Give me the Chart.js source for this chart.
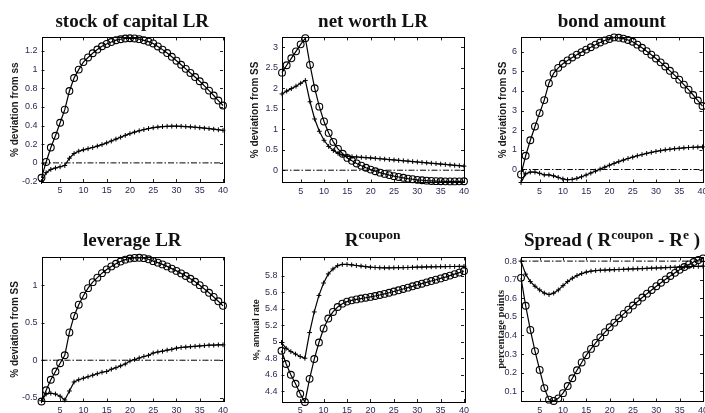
<!DOCTYPE html>
<html>
<head>
<meta charset="utf-8">
<script src="https://cdn.jsdelivr.net/npm/chart.js@4.4.1/dist/chart.umd.min.js"></script>
<style>
  html, body { margin: 0; padding: 0; background: #fff; }
  body { position: relative; width: 705px; height: 413px; overflow: hidden; }
  canvas { position: absolute; }
  .title {
    position: absolute; width: 320px; text-align: center; white-space: nowrap;
    font: bold 19px 'Liberation Serif', 'Times New Roman', serif; line-height: 19px; color: #111;
  }
  .title sup { font-size: 13.5px; vertical-align: 7px; line-height: 0; }
</style>
</head>
<body>
<script>
// impulse responses, periods 1..40 (circles / crosses)
const periods = Array.from({ length: 40 }, (_, i) => i + 1)
const xTicks = [5, 10, 15, 20, 25, 30, 35, 40]

const capitalCirc = [-0.16, 0.01, 0.165, 0.29, 0.43, 0.57, 0.77, 0.91, 1.0, 1.08, 1.13, 1.175, 1.215, 1.25, 1.275, 1.295, 1.315, 1.325, 1.333, 1.336,
  1.334, 1.326, 1.314, 1.299, 1.28, 1.248, 1.214, 1.177, 1.137, 1.095, 1.052, 1.008, 0.964, 0.92, 0.875, 0.826, 0.775, 0.722, 0.668, 0.615]
const capitalPlus = [-0.2, -0.105, -0.07, -0.055, -0.042, -0.028, 0.05, 0.1, 0.125, 0.14, 0.152, 0.165, 0.18, 0.196, 0.214, 0.234, 0.255, 0.275, 0.295, 0.313,
  0.33, 0.344, 0.357, 0.368, 0.377, 0.384, 0.389, 0.392, 0.393, 0.393, 0.392, 0.389, 0.386, 0.382, 0.377, 0.372, 0.367, 0.361, 0.355, 0.349]

const netWorthCirc = [2.38, 2.56, 2.73, 2.9, 3.07, 3.22, 2.57, 2.0, 1.55, 1.19, 0.91, 0.69, 0.52, 0.4, 0.3, 0.23, 0.165, 0.11, 0.06, 0.015,
  -0.025, -0.06, -0.09, -0.12, -0.145, -0.165, -0.185, -0.205, -0.22, -0.235, -0.245, -0.255, -0.262, -0.267, -0.27, -0.272, -0.273, -0.273, -0.272, -0.27]
const netWorthPlus = [1.86, 1.93, 1.99, 2.05, 2.12, 2.19, 1.67, 1.25, 0.95, 0.73, 0.58, 0.48, 0.41, 0.37, 0.345, 0.33, 0.322, 0.315, 0.307, 0.3,
  0.29, 0.28, 0.27, 0.26, 0.25, 0.24, 0.23, 0.22, 0.21, 0.2, 0.19, 0.18, 0.17, 0.16, 0.15, 0.14, 0.13, 0.12, 0.11, 0.1]

const bondCirc = [-0.25, 0.7, 1.49, 2.19, 2.87, 3.53, 4.39, 4.89, 5.17, 5.38, 5.55, 5.7, 5.84, 5.97, 6.1, 6.22, 6.35, 6.46, 6.56, 6.64,
  6.72, 6.7, 6.66, 6.59, 6.5, 6.35, 6.19, 6.02, 5.84, 5.65, 5.45, 5.24, 5.02, 4.8, 4.57, 4.32, 4.06, 3.79, 3.51, 3.23]
const bondPlus = [-0.66, -0.22, -0.13, -0.13, -0.19, -0.27, -0.27, -0.32, -0.4, -0.48, -0.52, -0.5, -0.45, -0.37, -0.28, -0.18, -0.08, 0.02, 0.12, 0.22,
  0.31, 0.4, 0.48, 0.56, 0.63, 0.7, 0.76, 0.82, 0.87, 0.92, 0.96, 1.0, 1.03, 1.06, 1.08, 1.1, 1.12, 1.13, 1.14, 1.15]

const leverageCirc = [-0.55, -0.4, -0.26, -0.15, -0.04, 0.066, 0.37, 0.59, 0.74, 0.86, 0.96, 1.04, 1.1, 1.16, 1.21, 1.25, 1.285, 1.315, 1.34, 1.355,
  1.363, 1.365, 1.36, 1.345, 1.32, 1.3, 1.277, 1.25, 1.22, 1.19, 1.157, 1.122, 1.085, 1.045, 1.0, 0.95, 0.898, 0.843, 0.785, 0.725]
const leveragePlus = [-0.54, -0.45, -0.44, -0.45, -0.48, -0.53, -0.41, -0.29, -0.26, -0.24, -0.22, -0.2, -0.18, -0.16, -0.15, -0.12, -0.1, -0.075, -0.05, -0.01,
  0.01, 0.03, 0.05, 0.065, 0.096, 0.11, 0.12, 0.135, 0.145, 0.16, 0.17, 0.175, 0.18, 0.185, 0.19, 0.195, 0.2, 0.2, 0.205, 0.205]

const couponCirc = [4.89, 4.73, 4.6, 4.49, 4.37, 4.27, 4.55, 4.79, 4.99, 5.16, 5.28, 5.36, 5.42, 5.46, 5.485, 5.5, 5.512, 5.522, 5.532, 5.542,
  5.553, 5.565, 5.578, 5.592, 5.607, 5.622, 5.638, 5.654, 5.67, 5.686, 5.702, 5.718, 5.734, 5.75, 5.766, 5.782, 5.8, 5.818, 5.836, 5.855]
const couponPlus = [4.99, 4.92, 4.88, 4.85, 4.82, 4.8, 5.11, 5.36, 5.56, 5.71, 5.82, 5.88, 5.92, 5.935, 5.935, 5.93, 5.922, 5.915, 5.908, 5.902,
  5.898, 5.895, 5.894, 5.894, 5.895, 5.896, 5.897, 5.898, 5.9, 5.902, 5.903, 5.905, 5.906, 5.907, 5.908, 5.909, 5.91, 5.91, 5.911, 5.912]

const spreadCirc = [0.71, 0.56, 0.43, 0.316, 0.215, 0.117, 0.055, 0.048, 0.062, 0.09, 0.128, 0.17, 0.213, 0.255, 0.294, 0.328, 0.36, 0.39, 0.418, 0.444,
  0.469, 0.493, 0.516, 0.539, 0.561, 0.583, 0.604, 0.625, 0.645, 0.665, 0.684, 0.702, 0.72, 0.737, 0.753, 0.768, 0.782, 0.795, 0.806, 0.815]
const spreadPlus = [0.8, 0.73, 0.69, 0.665, 0.645, 0.628, 0.62, 0.628, 0.645, 0.668, 0.69, 0.708, 0.722, 0.733, 0.741, 0.746, 0.749, 0.751, 0.752, 0.753,
  0.754, 0.755, 0.756, 0.757, 0.758, 0.759, 0.76, 0.761, 0.762, 0.763, 0.764, 0.765, 0.766, 0.767, 0.768, 0.769, 0.77, 0.771, 0.772, 0.773]

// steady state reference levels (null = none drawn)
const ssLevels = [0, 0, 0, 0, null, 0.8]

const yTicksList = [
  [-0.2, 0, 0.2, 0.4, 0.6, 0.8, 1, 1.2],
  [0, 0.5, 1, 1.5, 2, 2.5, 3],
  [0, 1, 2, 3, 4, 5, 6],
  [-0.5, 0, 0.5, 1],
  [4.4, 4.6, 4.8, 5, 5.2, 5.4, 5.6, 5.8],
  [0.1, 0.2, 0.3, 0.4, 0.5, 0.6, 0.7, 0.8]
]
const yLimits = [[-0.205, 1.345], [-0.3, 3.24], [-0.66, 6.72], [-0.55, 1.37], [4.27, 6.02], [0.045, 0.82]]

const titles = ['stock of capital LR', 'net worth LR', 'bond amount', 'leverage LR',
  'R<sup>coupon</sup>', 'Spread ( R<sup>coupon</sup> - R<sup>e</sup> )']
const yLabels = ['% deviation from ss', '% deviation from SS', '% deviation from SS', '% deviation from SS',
  '%, annual rate', 'percentage points']
const seriesCirc = [capitalCirc, netWorthCirc, bondCirc, leverageCirc, couponCirc, spreadCirc]
const seriesPlus = [capitalPlus, netWorthPlus, bondPlus, leveragePlus, couponPlus, spreadPlus]

// layout: canvas box + plot rectangle in page pixels
const layout = [
  { cx: 0, cy: 28, cw: 234, ch: 177, l: 41.5, t: 35, r: 223, b: 182, titleTop: 11, yl: 15, yFont: 'bold 10px "Liberation Sans"' },
  { cx: 240, cy: 28, cw: 236, ch: 177, l: 282, t: 35, r: 464, b: 182.5, titleTop: 11, yl: 255, yFont: 'bold 10px "Liberation Sans"' },
  { cx: 479, cy: 28, cw: 236, ch: 177, l: 521, t: 35, r: 702.5, b: 182.5, titleTop: 11, yl: 503, yFont: 'bold 10px "Liberation Sans"' },
  { cx: 0, cy: 248, cw: 234, ch: 165, l: 41.5, t: 256.5, r: 223, b: 401.5, titleTop: 229.5, yl: 15, yFont: 'bold 10px "Liberation Sans"' },
  { cx: 240, cy: 248, cw: 236, ch: 165, l: 281.5, t: 254, r: 464, b: 402, titleTop: 229.5, yl: 257, yFont: 'bold 9px "Liberation Sans"' },
  { cx: 479, cy: 248, cw: 236, ch: 165, l: 521, t: 256.5, r: 703, b: 401.5, titleTop: 229.5, yl: 501, yFont: 'bold 10.5px "Liberation Serif"' }
]

const parseFont = f => {
  const m = f.match(/bold ([\d.]+)px "(.*)"/)
  return { weight: 'bold', size: parseFloat(m[1]), family: m[2], lineHeight: 1.2 }
}

// matlab style box with inward ticks on all four sides
const matlabBox = {
  id: 'matlabBox',
  beforeDatasetsDraw(chart) {
    const { ctx, chartArea: a, scales: { x, y } } = chart
    const len = 3
    ctx.save()
    ctx.strokeStyle = '#222'
    ctx.lineWidth = 1
    ctx.beginPath()
    x.ticks.forEach(t => {
      const px = Math.round(x.getPixelForValue(t.value)) + 0.5
      ctx.moveTo(px, a.bottom); ctx.lineTo(px, a.bottom - len)
      ctx.moveTo(px, a.top); ctx.lineTo(px, a.top + len)
    })
    y.ticks.forEach(t => {
      const py = Math.round(y.getPixelForValue(t.value)) + 0.5
      ctx.moveTo(a.left, py); ctx.lineTo(a.left + len, py)
      ctx.moveTo(a.right, py); ctx.lineTo(a.right - len, py)
    })
    ctx.stroke()
    ctx.strokeStyle = '#000'
    ctx.strokeRect(Math.round(a.left) + 0.5, Math.round(a.top) + 0.5, Math.round(a.width), Math.round(a.height))
    ctx.restore()
  }
}

const tickFont = { family: 'Liberation Sans', size: 9 }
const tickColor = '#2a2a55'

layout.forEach((p, i) => {
  const canvas = document.createElement('canvas')
  canvas.width = p.cw
  canvas.height = p.ch
  canvas.style.left = p.cx + 'px'
  canvas.style.top = p.cy + 'px'
  canvas.style.width = p.cw + 'px'
  canvas.style.height = p.ch + 'px'
  document.body.appendChild(canvas)

  const yFont = parseFont(p.yFont)
  const datasets = [
    {
      data: seriesCirc[i], borderColor: '#000', borderWidth: 1.2,
      pointStyle: 'circle', pointRadius: 3.4, pointBorderWidth: 1.1,
      pointBorderColor: '#000', pointBackgroundColor: 'rgba(0,0,0,0)', clip: false
    },
    {
      data: seriesPlus[i], borderColor: '#000', borderWidth: 1.2,
      pointStyle: 'cross', pointRadius: 2.4, pointBorderWidth: 1,
      pointBorderColor: '#000', clip: false
    }
  ]
  if (ssLevels[i] !== null) {
    datasets.push({
      data: periods.map(() => ssLevels[i]), borderColor: '#000', borderWidth: 1,
      borderDash: [6, 2, 1.5, 2], pointRadius: 0, clip: false
    })
  }

  new Chart(canvas, {
    type: 'line',
    data: { labels: periods, datasets },
    plugins: [matlabBox],
    options: {
      responsive: false,
      animation: false,
      events: [],
      layout: { padding: { top: p.t - p.cy, right: p.cx + p.cw - p.r, left: 0, bottom: 0 } },
      plugins: { legend: { display: false }, tooltip: { enabled: false } },
      scales: {
        x: {
          type: 'linear', min: 1, max: 40,
          grid: { display: false, drawTicks: false }, border: { display: false },
          afterBuildTicks: s => { s.ticks = xTicks.map(value => ({ value })) },
          afterFit: s => { s.height = p.cy + p.ch - p.b },
          ticks: { font: tickFont, color: tickColor, padding: 3.5, maxRotation: 0, callback: v => `${v}` }
        },
        y: {
          min: yLimits[i][0], max: yLimits[i][1],
          grid: { display: false, drawTicks: false }, border: { display: false },
          afterBuildTicks: s => { s.ticks = yTicksList[i].map(value => ({ value })) },
          afterFit: s => { s.width = p.l - p.cx },
          ticks: { font: tickFont, color: tickColor, padding: 4, callback: v => `${v}` },
          title: {
            display: true, text: yLabels[i], color: '#1a1a1a', font: yFont,
            padding: { top: p.yl - p.cx - yFont.size * 0.6, bottom: 0 }
          }
        }
      }
    }
  })

  const title = document.createElement('div')
  title.className = 'title'
  title.innerHTML = titles[i]
  title.style.left = ((p.l + p.r) / 2 - 160) + 'px'
  title.style.top = p.titleTop + 'px'
  document.body.appendChild(title)
})
</script>
</body>
</html>
